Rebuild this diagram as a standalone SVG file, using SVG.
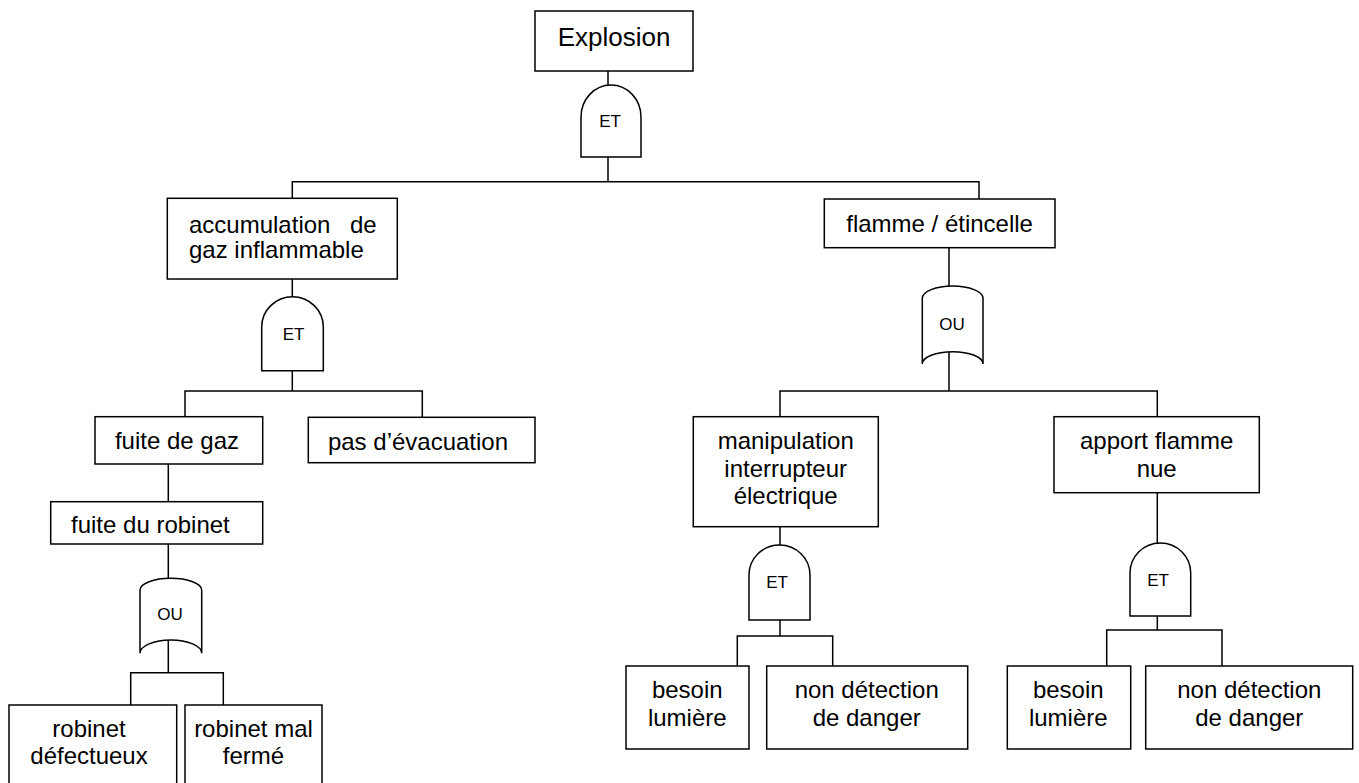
<svg xmlns="http://www.w3.org/2000/svg" width="1359" height="783" viewBox="0 0 1359 783">
<style>
.box{fill:#fff;stroke:#000;stroke-width:1.5}
.gate{fill:#fff;stroke:#000;stroke-width:1.5}
.ln{fill:none;stroke:#000;stroke-width:1.5}
text{font-family:"Liberation Sans",Arial,sans-serif;fill:#000}
.t{font-size:24px;text-anchor:middle}
.g{font-size:17px;text-anchor:middle}
</style>
<rect width="1359" height="783" fill="#fff"/>
<g id="connectors">
<path class="ln" d="M608,71 V85 M608,157 V181.7 M292.3,198.3 V181.7 H979 V199"/>
<path class="ln" d="M292.3,279 V296.7 M292.3,370.7 V391 M185,416.7 V391 H422.3 V417.3"/>
<path class="ln" d="M168.3,464 V501.7 M168.3,544 V578.3 M168.3,640 V672.7 M130.7,705 V672.7 H223.3 V705"/>
<path class="ln" d="M949,248 V286 M949,352 V391 M780,416.7 V391 H1157.3 V416.7"/>
<path class="ln" d="M780,526.7 V545 M780,620 V636 M737.3,666 V636 H832.7 V666"/>
<path class="ln" d="M1157.3,492.7 V543 M1157.3,616 V630 M1106.7,666 V630 H1222 V666"/>
</g>
<g id="explosion"><rect class="box" x="535" y="11" width="158" height="60"/><text class="t" x="614" y="46" style="font-size:26px">Explosion</text></g>
<g id="gate-et-1"><path class="gate" d="M581,157 V117 A30 32 0 0 1 641,117 V157 Z"/><text class="g" x="610" y="127">ET</text></g>
<g id="accumulation"><rect class="box" x="167.3" y="198.3" width="230" height="80.7"/><text x="189" y="233" style="font-size:24px">accumulation</text><text x="376.7" y="233" style="font-size:24px;text-anchor:end">de</text><text x="189" y="258.3" style="font-size:24px">gaz inflammable</text></g>
<g id="gate-et-2"><path class="gate" d="M261.7,370.7 V327 A30.8 30.3 0 0 1 323.3,327 V370.7 Z"/><text class="g" x="293.5" y="340">ET</text></g>
<g id="flamme"><rect class="box" x="824.3" y="199" width="230.7" height="48.7"/><text class="t" x="939.6" y="231.7">flamme / étincelle</text></g>
<g id="gate-ou-1"><path class="gate" d="M922.3,364 V298.3 A30.35 12.3 0 0 1 983,298.3 V364 A30.35 12.3 0 0 0 922.3,364 Z"/><text class="g" x="952" y="330">OU</text></g>
<g id="fuite-gaz"><rect class="box" x="95" y="416.7" width="167.7" height="47.3"/><text class="t" x="177" y="449.3">fuite de gaz</text></g>
<g id="pas-evacuation"><rect class="box" x="308.3" y="417.3" width="226.7" height="45.4"/><text class="t" x="418" y="450">pas d’évacuation</text></g>
<g id="fuite-robinet"><rect class="box" x="50.7" y="501.7" width="212" height="42.3"/><text x="71" y="533.3" style="font-size:24px">fuite du robinet</text></g>
<g id="gate-ou-2"><path class="gate" d="M140,653.3 V590 A30.85 11.7 0 0 1 201.7,590 V653.3 A30.85 13.3 0 0 0 140,653.3 Z"/><text class="g" x="170" y="620">OU</text></g>
<g id="robinet-defectueux"><rect class="box" x="9" y="705" width="167.7" height="100"/><text class="t" x="89" y="736.7">robinet</text><text class="t" x="89" y="764">défectueux</text></g>
<g id="robinet-mal-ferme"><rect class="box" x="185" y="705" width="137" height="100"/><text class="t" x="253.5" y="736.7">robinet mal</text><text class="t" x="253.5" y="764">fermé</text></g>
<g id="manipulation"><rect class="box" x="693.3" y="416.7" width="185" height="110"/><text class="t" x="785.7" y="449">manipulation</text><text class="t" x="785.7" y="477.3">interrupteur</text><text class="t" x="785.7" y="504.3">électrique</text></g>
<g id="apport"><rect class="box" x="1054" y="416.7" width="205.3" height="76"/><text class="t" x="1156.7" y="449.3">apport flamme</text><text class="t" x="1156.7" y="477.3">nue</text></g>
<g id="gate-et-3"><path class="gate" d="M749,620 V575 A30.5 30 0 0 1 810,575 V620 Z"/><text class="g" x="777" y="588.3">ET</text></g>
<g id="gate-et-4"><path class="gate" d="M1130,616 V573 A30.35 30 0 0 1 1190.7,573 V616 Z"/><text class="g" x="1158" y="586">ET</text></g>
<g id="besoin-1"><rect class="box" x="626" y="666" width="123" height="83"/><text class="t" x="687.3" y="698.3">besoin</text><text class="t" x="687.3" y="725.7">lumière</text></g>
<g id="non-detection-1"><rect class="box" x="766.7" y="666" width="201" height="83"/><text class="t" x="866.7" y="698.3">non détection</text><text class="t" x="866.7" y="725.7">de danger</text></g>
<g id="besoin-2"><rect class="box" x="1007.3" y="666" width="123.4" height="83"/><text class="t" x="1068.3" y="698.3">besoin</text><text class="t" x="1068.3" y="725.7">lumière</text></g>
<g id="non-detection-2"><rect class="box" x="1145.7" y="666" width="207" height="83"/><text class="t" x="1249.3" y="698.3">non détection</text><text class="t" x="1249.3" y="725.7">de danger</text></g>
</svg>
